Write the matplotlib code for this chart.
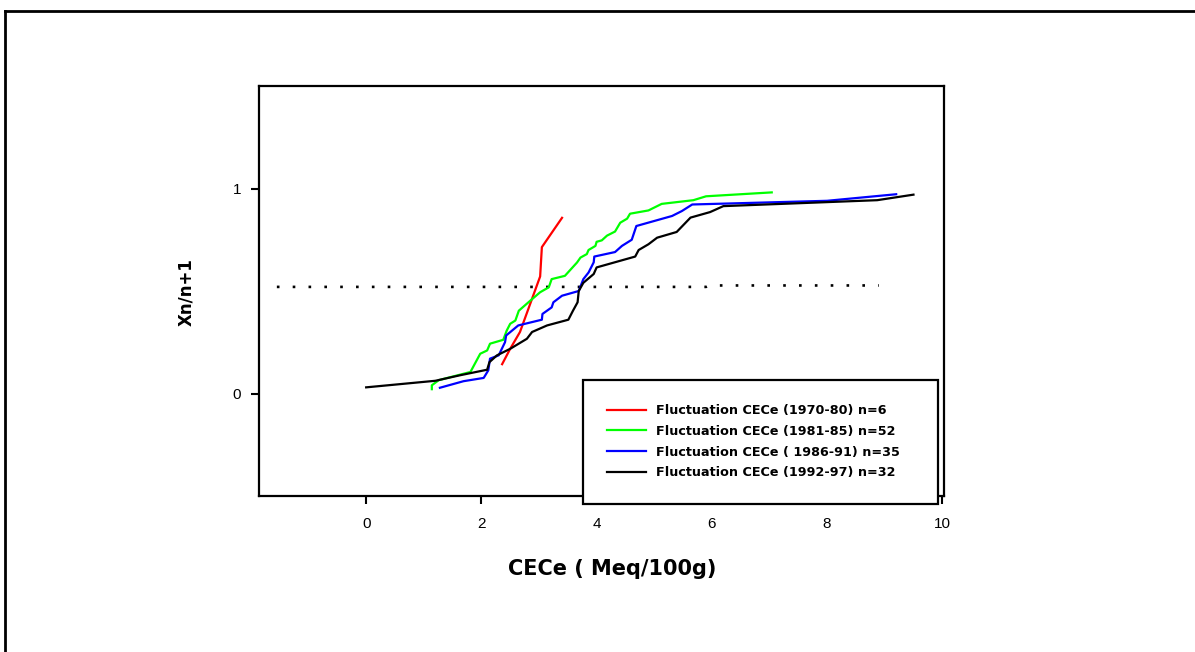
import matplotlib
matplotlib.use("Agg")
import matplotlib.pyplot as plt
from matplotlib.lines import Line2D

# ---- data ----
red_x = [2.36, 2.50, 2.67, 3.02, 3.05, 3.40]
red_y = [0.143, 0.218, 0.300, 0.571, 0.714, 0.857]

green_x = [1.14, 1.14, 1.26, 1.81, 1.98, 2.10, 2.15, 2.38, 2.44, 2.50, 2.59, 2.65,
           2.85, 3.02, 3.17, 3.22, 3.45, 3.66, 3.72, 3.83, 3.86, 3.98, 4.00, 4.09,
           4.18, 4.32, 4.41, 4.53, 4.58, 4.90, 5.13, 5.68, 5.90, 7.04]
green_y = [0.021, 0.040, 0.065, 0.105, 0.194, 0.210, 0.243, 0.262, 0.307, 0.340, 0.356, 0.404,
           0.453, 0.494, 0.518, 0.558, 0.574, 0.639, 0.663, 0.680, 0.700, 0.720, 0.740, 0.747,
           0.770, 0.790, 0.833, 0.853, 0.877, 0.893, 0.925, 0.943, 0.962, 0.981]

blue_x = [1.28, 1.69, 2.04, 2.12, 2.15, 2.30, 2.41, 2.43, 2.64, 3.05, 3.06, 3.22,
          3.25, 3.40, 3.69, 3.77, 3.86, 3.95, 3.96, 4.32, 4.44, 4.61, 4.69, 5.31,
          5.48, 5.66, 8.00, 9.20]
blue_y = [0.028, 0.060, 0.076, 0.113, 0.170, 0.186, 0.250, 0.283, 0.332, 0.360, 0.388, 0.420,
          0.445, 0.477, 0.500, 0.558, 0.590, 0.640, 0.668, 0.690, 0.720, 0.750, 0.817, 0.866,
          0.890, 0.922, 0.940, 0.972]

black_x = [0.00, 1.20, 1.63, 2.10, 2.14, 2.27, 2.50, 2.79, 2.88, 3.14, 3.51, 3.59,
           3.67, 3.69, 3.77, 3.95, 4.00, 4.67, 4.73, 4.90, 5.05, 5.39, 5.63, 5.97,
           6.20, 8.87, 9.50]
black_y = [0.030, 0.062, 0.089, 0.116, 0.153, 0.186, 0.218, 0.267, 0.300, 0.332, 0.360, 0.404,
           0.445, 0.500, 0.540, 0.583, 0.615, 0.668, 0.700, 0.728, 0.760, 0.788, 0.858, 0.885,
           0.914, 0.943, 0.970]

median_x = [-1.55, 5.90, 5.95, 8.90]
median_y = [0.520, 0.520, 0.527, 0.527]

labels = ["Fluctuation CECe (1970-80) n=6",
          "Fluctuation CECe (1981-85) n=52",
          "Fluctuation CECe ( 1986-91) n=35",
          "Fluctuation CECe (1992-97) n=32"]
colors = ["#ff0000", "#00ff00", "#0000ff", "#000000"]

xticks = [0, 2, 4, 6, 8, 10]
yticks = [0, 1]

plt.rcParams['font.family'] = ['Liberation Sans Narrow', 'Liberation Sans', 'DejaVu Sans']

fig = plt.figure(figsize=(11.95, 6.52), dpi=100)
ax = fig.add_axes([259/1195, 1-496/652, (944-259)/1195, (496-86)/652])

ax.plot(median_x, median_y, color="black", lw=1.9, linestyle=(0, (1, 5)))
series = [(red_x, red_y), (green_x, green_y), (blue_x, blue_y), (black_x, black_y)]
for (xs, ys), c in zip(series, colors):
    ax.plot(xs, ys, color=c, lw=1.6)

ax.set_xlim(-1.86, 10.03)
ax.set_ylim(-0.5, 1.5)
ax.set_xticks(xticks)
ax.set_yticks(yticks)
ax.tick_params(direction="out", length=6, width=1.5, labelsize=11,
               top=False, right=False)
ax.tick_params(axis="x", pad=9)
ax.tick_params(axis="y", pad=7)
for s in ax.spines.values():
    s.set_linewidth(1.6)

fig.text(612/1195, 1-569/652, "CECe ( Meq/100g)", ha="center", va="center",
         fontsize=15, fontweight="bold", family="DejaVu Sans")
fig.text(186/1195, 1-292/652, "Xn/n+1", ha="center", va="center", rotation=90,
         fontsize=12, fontweight="bold", family="DejaVu Sans")

handles = [Line2D([], [], color=c, lw=1.6) for c in colors]
leg = fig.legend(handles, labels, loc="upper left", mode="expand",
                 bbox_to_anchor=(583/1195, 1-500/652, 355/1195, 120/652),
                 frameon=True, fancybox=False, framealpha=1,
                 prop={"size": 9.2, "weight": "bold", "family": "DejaVu Sans"},
                 handlelength=3.0, handletextpad=0.8, labelspacing=0.6,
                 borderpad=1.9, borderaxespad=0)
leg.get_frame().set_edgecolor("black")
leg.get_frame().set_linewidth(1.6)

# outer frame (top and left edges)
fig.add_artist(Line2D([5/1195, 1.0], [1-11/652, 1-11/652], color="black", lw=2,
                      transform=fig.transFigure))
fig.add_artist(Line2D([5/1195, 5/1195], [0.0, 1-11/652], color="black", lw=2,
                      transform=fig.transFigure))

fig.savefig("out.png", dpi=100)
